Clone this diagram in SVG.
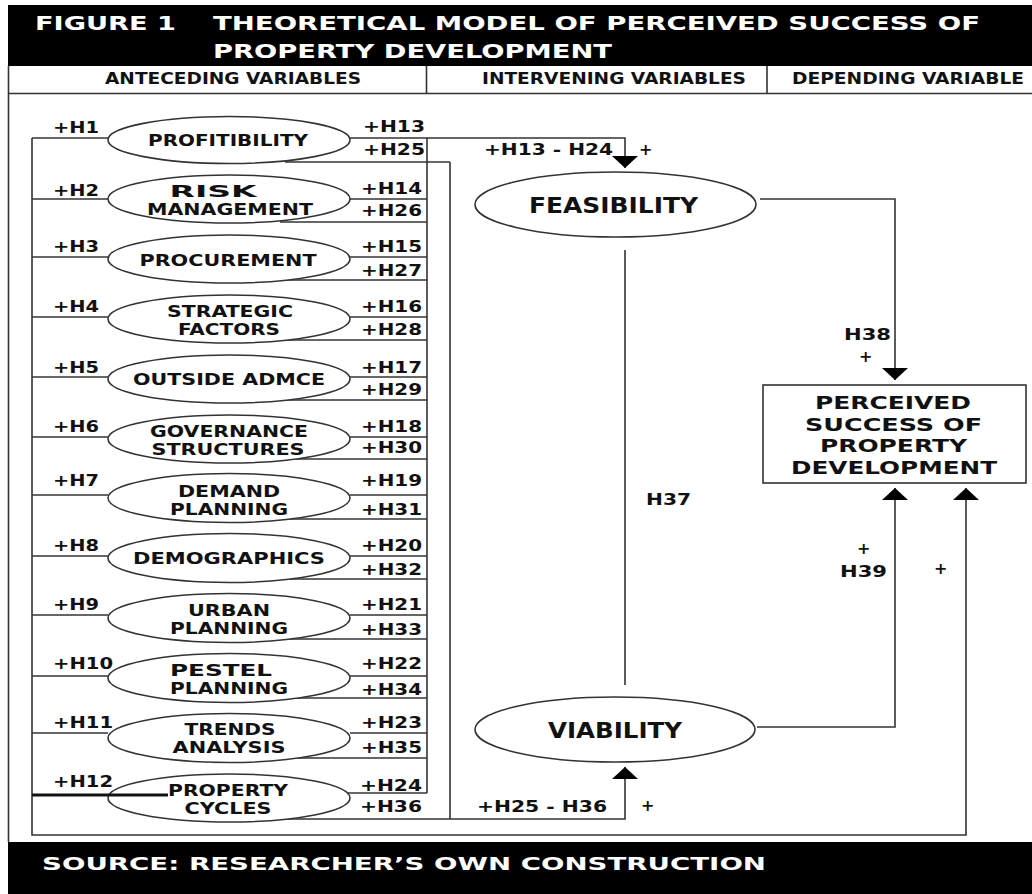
<svg xmlns="http://www.w3.org/2000/svg" width="1032" height="894" viewBox="0 0 1032 894">
<style>
.ln{fill:none;stroke:#333;stroke-width:1.6}
.thick{fill:none;stroke:#111;stroke-width:3}
.el{fill:#fff;stroke:#333;stroke-width:1.6}
.t{font-family:"DejaVu Sans","Liberation Sans",sans-serif;font-weight:bold;fill:#111}
.h{font-size:16px}
.n{font-size:15.5px;text-anchor:middle}
.b{font-size:22px;text-anchor:middle}
.c{font-size:15px}
.p{font-size:18px;text-anchor:middle}
.w{fill:#fff}
</style>
<defs>
<marker id="ah" markerUnits="userSpaceOnUse" viewBox="0 0 12 26" refX="12" refY="13" markerWidth="12" markerHeight="26" orient="auto">
<path d="M0,0 L12,13 L0,26 Z" fill="#000"/>
</marker>
</defs>
<rect width="1032" height="894" fill="#fff"/>
<!-- header -->
<g id="header">
<rect x="8" y="5" width="1024" height="61" fill="#000"/>
<text class="t w" x="35" y="30" font-size="19" textLength="141" lengthAdjust="spacingAndGlyphs">FIGURE 1</text>
<text class="t w" x="213" y="30" font-size="19" textLength="767" lengthAdjust="spacingAndGlyphs">THEORETICAL MODEL OF PERCEIVED SUCCESS OF</text>
<text class="t w" x="213" y="58" font-size="19" textLength="399" lengthAdjust="spacingAndGlyphs">PROPERTY DEVELOPMENT</text>
</g>
<g id="column-headers">
<line class="ln" x1="8.5" y1="66" x2="8.5" y2="842"/>
<line class="ln" x1="8" y1="93.5" x2="1032" y2="93.5"/>
<line class="ln" x1="426.5" y1="66" x2="426.5" y2="93.5"/>
<line class="ln" x1="767" y1="66" x2="767" y2="93.5"/>
<text class="t c" x="105" y="84" textLength="256" lengthAdjust="spacingAndGlyphs">ANTECEDING VARIABLES</text>
<text class="t c" x="482" y="84" textLength="264" lengthAdjust="spacingAndGlyphs">INTERVENING VARIABLES</text>
<text class="t c" x="792" y="84" textLength="232" lengthAdjust="spacingAndGlyphs">DEPENDING VARIABLE</text>
</g>
<g id="footer">
<rect x="8" y="842" width="1024" height="52" fill="#000"/>
<text class="t w" x="42" y="870" font-size="18" textLength="724" lengthAdjust="spacingAndGlyphs">SOURCE: RESEARCHER’S OWN CONSTRUCTION</text>
</g>
<!-- connectors -->
<g id="connectors">
<path class="ln" d="M32,138 V835 H966 V488" marker-end="url(#ah)"/>
<line class="ln" x1="32" y1="138" x2="108" y2="138"/>
<line class="ln" x1="32" y1="199" x2="108" y2="199"/>
<line class="ln" x1="32" y1="257" x2="108" y2="257"/>
<line class="ln" x1="32" y1="317" x2="108" y2="317"/>
<line class="ln" x1="32" y1="377" x2="108" y2="377"/>
<line class="ln" x1="32" y1="437" x2="108" y2="437"/>
<line class="ln" x1="32" y1="495" x2="108" y2="495"/>
<line class="ln" x1="32" y1="556" x2="108" y2="556"/>
<line class="ln" x1="32" y1="615" x2="108" y2="615"/>
<line class="ln" x1="32" y1="676" x2="108" y2="676"/>
<line class="ln" x1="32" y1="733" x2="108" y2="733"/>
<line class="ln" x1="427" y1="138" x2="427" y2="793"/>
<line class="ln" x1="450" y1="162" x2="450" y2="819"/>
<path class="ln" d="M350,138 H625 V168" marker-end="url(#ah)"/>
<line class="ln" x1="350" y1="199" x2="427" y2="199"/>
<line class="ln" x1="350" y1="257" x2="427" y2="257"/>
<line class="ln" x1="350" y1="317" x2="427" y2="317"/>
<line class="ln" x1="350" y1="377" x2="427" y2="377"/>
<line class="ln" x1="350" y1="437" x2="427" y2="437"/>
<line class="ln" x1="350" y1="495" x2="427" y2="495"/>
<line class="ln" x1="350" y1="556" x2="427" y2="556"/>
<line class="ln" x1="350" y1="615" x2="427" y2="615"/>
<line class="ln" x1="350" y1="676" x2="427" y2="676"/>
<line class="ln" x1="350" y1="733" x2="427" y2="733"/>
<line class="ln" x1="348" y1="793" x2="427" y2="793"/>
<line class="ln" x1="285" y1="162" x2="450" y2="162"/>
<line class="ln" x1="280" y1="222" x2="427" y2="222"/>
<line class="ln" x1="280" y1="280" x2="427" y2="280"/>
<line class="ln" x1="280" y1="340" x2="427" y2="340"/>
<line class="ln" x1="280" y1="400" x2="427" y2="400"/>
<line class="ln" x1="280" y1="459" x2="427" y2="459"/>
<line class="ln" x1="280" y1="519" x2="427" y2="519"/>
<line class="ln" x1="280" y1="579" x2="427" y2="579"/>
<line class="ln" x1="280" y1="639" x2="427" y2="639"/>
<line class="ln" x1="280" y1="698" x2="427" y2="698"/>
<line class="ln" x1="280" y1="758" x2="427" y2="758"/>
<path class="ln" d="M267,819 H625 V767" marker-end="url(#ah)"/>
<path class="ln" d="M760,199 H895 V380" marker-end="url(#ah)"/>
<path class="ln" d="M757,727 H895 V488" marker-end="url(#ah)"/>
<line class="ln" x1="625" y1="250" x2="625" y2="685"/>
</g>
<!-- antecedent nodes -->
<g id="profitibility"><ellipse class="el" cx="229" cy="140" rx="121" ry="23.5"/><text class="t n" x="228" y="146" textLength="160" lengthAdjust="spacingAndGlyphs">PROFITIBILITY</text></g>
<g id="risk-management"><ellipse class="el" cx="229" cy="199" rx="121" ry="24"/><text class="t n" x="213" y="196.5" textLength="87" lengthAdjust="spacingAndGlyphs">RISK</text><text class="t n" x="230" y="214.5" textLength="166" lengthAdjust="spacingAndGlyphs">MANAGEMENT</text></g>
<g id="procurement"><ellipse class="el" cx="229" cy="259" rx="121" ry="24"/><text class="t n" x="228" y="266" textLength="177" lengthAdjust="spacingAndGlyphs">PROCUREMENT</text></g>
<g id="strategic-factors"><ellipse class="el" cx="229" cy="319" rx="121" ry="24"/><text class="t n" x="230" y="316.5" textLength="126" lengthAdjust="spacingAndGlyphs">STRATEGIC</text><text class="t n" x="229" y="334.5" textLength="102" lengthAdjust="spacingAndGlyphs">FACTORS</text></g>
<g id="outside-advice"><ellipse class="el" cx="229" cy="379" rx="121" ry="24"/><text class="t n" x="229" y="384.5" textLength="192" lengthAdjust="spacingAndGlyphs">OUTSIDE ADMCE</text></g>
<g id="governance-structures"><ellipse class="el" cx="229" cy="439" rx="121" ry="24"/><text class="t n" x="229" y="436.5" textLength="158" lengthAdjust="spacingAndGlyphs">GOVERNANCE</text><text class="t n" x="228" y="454.5" textLength="153" lengthAdjust="spacingAndGlyphs">STRUCTURES</text></g>
<g id="demand-planning"><ellipse class="el" cx="229" cy="498" rx="121" ry="24.5"/><text class="t n" x="229" y="496.5" textLength="102" lengthAdjust="spacingAndGlyphs">DEMAND</text><text class="t n" x="229" y="514.5" textLength="118" lengthAdjust="spacingAndGlyphs">PLANNING</text></g>
<g id="demographics"><ellipse class="el" cx="229" cy="558" rx="121" ry="24.5"/><text class="t n" x="229" y="563.5" textLength="192" lengthAdjust="spacingAndGlyphs">DEMOGRAPHICS</text></g>
<g id="urban-planning"><ellipse class="el" cx="229" cy="618" rx="121" ry="24.5"/><text class="t n" x="229" y="615.5" textLength="82" lengthAdjust="spacingAndGlyphs">URBAN</text><text class="t n" x="229" y="633.5" textLength="118" lengthAdjust="spacingAndGlyphs">PLANNING</text></g>
<g id="pestel-planning"><ellipse class="el" cx="229" cy="678" rx="121" ry="24.5"/><text class="t n" x="221" y="675.5" textLength="102" lengthAdjust="spacingAndGlyphs">PESTEL</text><text class="t n" x="229" y="693.5" textLength="118" lengthAdjust="spacingAndGlyphs">PLANNING</text></g>
<g id="trends-analysis"><ellipse class="el" cx="229" cy="738" rx="121" ry="24.5"/><text class="t n" x="230" y="735" textLength="91" lengthAdjust="spacingAndGlyphs">TRENDS</text><text class="t n" x="229" y="753" textLength="113" lengthAdjust="spacingAndGlyphs">ANALYSIS</text></g>
<g id="property-cycles"><ellipse class="el" cx="229" cy="798" rx="121" ry="24"/><text class="t n" x="228" y="795.5" textLength="120" lengthAdjust="spacingAndGlyphs">PROPERTY</text><text class="t n" x="228" y="813.5" textLength="87" lengthAdjust="spacingAndGlyphs">CYCLES</text><line class="thick" x1="32" y1="795" x2="168" y2="795"/></g>
<!-- intervening nodes -->
<g id="feasibility"><ellipse class="el" cx="615.5" cy="204.5" rx="140.5" ry="32.5"/><text class="t b" x="613.5" y="213" textLength="169" lengthAdjust="spacingAndGlyphs">FEASIBILITY</text></g>
<g id="viability"><ellipse class="el" cx="615" cy="729.5" rx="140" ry="32.5"/><text class="t b" x="615" y="738" textLength="134" lengthAdjust="spacingAndGlyphs">VIABILITY</text></g>
<!-- dependent node -->
<g id="perceived-success">
<rect x="763" y="385" width="263" height="98" fill="#fff" stroke="#333" stroke-width="1.6"/>
<text class="t p" x="893" y="409" textLength="156" lengthAdjust="spacingAndGlyphs">PERCEIVED</text>
<text class="t p" x="893.5" y="430.5" textLength="177" lengthAdjust="spacingAndGlyphs">SUCCESS OF</text>
<text class="t p" x="893.5" y="452" textLength="147" lengthAdjust="spacingAndGlyphs">PROPERTY</text>
<text class="t p" x="894" y="473.5" textLength="206" lengthAdjust="spacingAndGlyphs">DEVELOPMENT</text>
</g>
<!-- connector labels -->
<g id="labels">
<text class="t h" x="53" y="133" textLength="46" lengthAdjust="spacingAndGlyphs">+H1</text>
<text class="t h" x="53" y="196" textLength="46" lengthAdjust="spacingAndGlyphs">+H2</text>
<text class="t h" x="53" y="252" textLength="46" lengthAdjust="spacingAndGlyphs">+H3</text>
<text class="t h" x="53" y="312" textLength="46" lengthAdjust="spacingAndGlyphs">+H4</text>
<text class="t h" x="53" y="373" textLength="46" lengthAdjust="spacingAndGlyphs">+H5</text>
<text class="t h" x="53" y="432" textLength="46" lengthAdjust="spacingAndGlyphs">+H6</text>
<text class="t h" x="53" y="486" textLength="46" lengthAdjust="spacingAndGlyphs">+H7</text>
<text class="t h" x="53" y="551" textLength="46" lengthAdjust="spacingAndGlyphs">+H8</text>
<text class="t h" x="53" y="610" textLength="46" lengthAdjust="spacingAndGlyphs">+H9</text>
<text class="t h" x="53" y="669" textLength="60" lengthAdjust="spacingAndGlyphs">+H10</text>
<text class="t h" x="53" y="728" textLength="60" lengthAdjust="spacingAndGlyphs">+H11</text>
<text class="t h" x="53" y="787" textLength="60" lengthAdjust="spacingAndGlyphs">+H12</text>
<text class="t h" x="363" y="132" textLength="62" lengthAdjust="spacingAndGlyphs">+H13</text>
<text class="t h" x="363" y="155" textLength="62" lengthAdjust="spacingAndGlyphs">+H25</text>
<text class="t h" x="361" y="194" textLength="61" lengthAdjust="spacingAndGlyphs">+H14</text>
<text class="t h" x="361" y="216" textLength="61" lengthAdjust="spacingAndGlyphs">+H26</text>
<text class="t h" x="361" y="252" textLength="61" lengthAdjust="spacingAndGlyphs">+H15</text>
<text class="t h" x="361" y="276" textLength="61" lengthAdjust="spacingAndGlyphs">+H27</text>
<text class="t h" x="361" y="312" textLength="61" lengthAdjust="spacingAndGlyphs">+H16</text>
<text class="t h" x="361" y="335" textLength="61" lengthAdjust="spacingAndGlyphs">+H28</text>
<text class="t h" x="361" y="373" textLength="61" lengthAdjust="spacingAndGlyphs">+H17</text>
<text class="t h" x="361" y="395" textLength="61" lengthAdjust="spacingAndGlyphs">+H29</text>
<text class="t h" x="361" y="432" textLength="61" lengthAdjust="spacingAndGlyphs">+H18</text>
<text class="t h" x="361" y="453" textLength="61" lengthAdjust="spacingAndGlyphs">+H30</text>
<text class="t h" x="361" y="486" textLength="61" lengthAdjust="spacingAndGlyphs">+H19</text>
<text class="t h" x="361" y="515" textLength="61" lengthAdjust="spacingAndGlyphs">+H31</text>
<text class="t h" x="361" y="551" textLength="61" lengthAdjust="spacingAndGlyphs">+H20</text>
<text class="t h" x="361" y="575" textLength="61" lengthAdjust="spacingAndGlyphs">+H32</text>
<text class="t h" x="361" y="610" textLength="61" lengthAdjust="spacingAndGlyphs">+H21</text>
<text class="t h" x="361" y="635" textLength="61" lengthAdjust="spacingAndGlyphs">+H33</text>
<text class="t h" x="361" y="669" textLength="61" lengthAdjust="spacingAndGlyphs">+H22</text>
<text class="t h" x="361" y="695" textLength="61" lengthAdjust="spacingAndGlyphs">+H34</text>
<text class="t h" x="361" y="728" textLength="61" lengthAdjust="spacingAndGlyphs">+H23</text>
<text class="t h" x="361" y="753" textLength="61" lengthAdjust="spacingAndGlyphs">+H35</text>
<text class="t h" x="360" y="791" textLength="62" lengthAdjust="spacingAndGlyphs">+H24</text>
<text class="t h" x="360" y="812" textLength="62" lengthAdjust="spacingAndGlyphs">+H36</text>
<text class="t h" x="484" y="155" textLength="129" lengthAdjust="spacingAndGlyphs">+H13 - H24</text>
<text class="t h" x="639" y="155">+</text>
<text class="t h" x="477" y="812" textLength="130" lengthAdjust="spacingAndGlyphs">+H25 - H36</text>
<text class="t h" x="641" y="811">+</text>
<text class="t h" x="844" y="340" textLength="47" lengthAdjust="spacingAndGlyphs">H38</text>
<text class="t h" x="859" y="362">+</text>
<text class="t h" x="646" y="505" textLength="45" lengthAdjust="spacingAndGlyphs">H37</text>
<text class="t h" x="857" y="554">+</text>
<text class="t h" x="840" y="577" textLength="47" lengthAdjust="spacingAndGlyphs">H39</text>
<text class="t h" x="934" y="574">+</text>
</g>
</svg>
